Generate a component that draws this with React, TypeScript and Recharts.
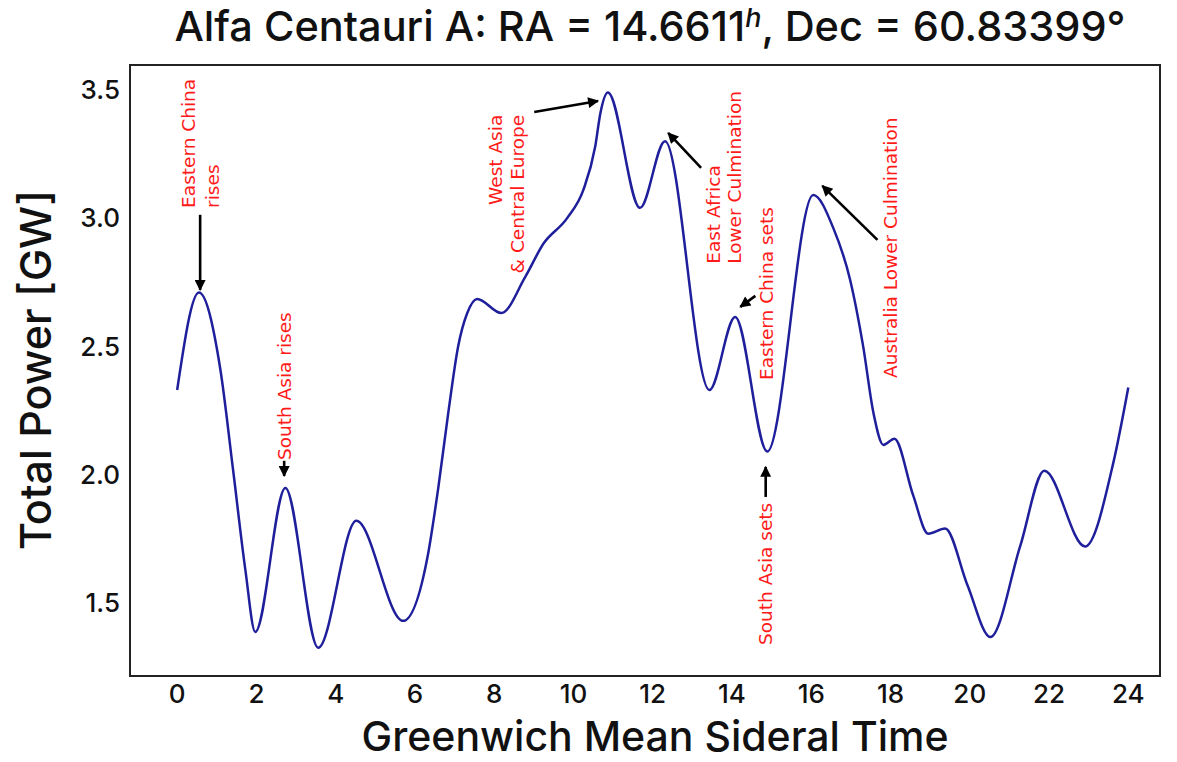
import React from "react";
import { LineChart, Line, XAxis, YAxis, ReferenceLine, ReferenceDot, ReferenceArea } from "recharts";

const gmst = [0, 0.55, 1.09, 1.41, 1.72, 1.97, 2.73, 3.56, 4.52, 5.7, 6.33, 6.59, 6.84, 7.09, 7.32, 7.57, 8.18, 8.78, 9.24, 9.84, 10.25, 10.55, 10.68, 10.87, 11.68, 12.31, 13.43, 14.08, 14.89, 16.05, 16.56, 16.98, 17.31, 17.57, 17.82, 18.1, 18.57, 18.95, 19.38, 19.94, 20.52, 21.27, 21.88, 22.91, 23.62, 24];
const power = [2.33, 2.71, 2.41, 2.02, 1.63, 1.387, 1.948, 1.325, 1.82, 1.43, 1.69, 1.95, 2.24, 2.5, 2.63, 2.685, 2.63, 2.77, 2.9, 3.0, 3.11, 3.28, 3.41, 3.49, 3.04, 3.3, 2.33, 2.615, 2.09, 3.09, 2.96, 2.76, 2.5, 2.24, 2.116, 2.14, 1.92, 1.77, 1.79, 1.57, 1.367, 1.72, 2.015, 1.72, 2.045, 2.34];

const xTicks = [0, 2, 4, 6, 8, 10, 12, 14, 16, 18, 20, 22, 24];
const yTicks = [1.5, 2.0, 2.5, 3.0, 3.5];

const noteText = ["Eastern China", "rises", "South Asia rises", "West Asia", "& Central Europe", "East Africa", "Lower Culmination", "Eastern China sets", "South Asia sets", "Australia Lower Culmination"];
const noteX = [0.278, 0.883, 2.7, 8.025, 8.58, 13.527, 14.057, 14.864, 14.84, 17.99];
const noteY = [3.04, 3.04, 2.057, 3.403, 3.403, 2.822, 2.822, 2.369, 1.336, 2.377];
const noteAnchor = ["start", "start", "start", "end", "end", "start", "start", "start", "start", "start"];

const arrowFromX = [0.58, 2.7, 9.01, 13.22, 14.59, 14.85, 17.67];
const arrowFromY = [3.013, 2.054, 3.414, 3.196, 2.697, 1.913, 2.915];
const arrowToX = [0.58, 2.7, 10.62, 12.39, 14.21, 14.85, 16.28];
const arrowToY = [2.72, 1.995, 3.457, 3.332, 2.654, 2.03, 3.126];

const data = gmst.map((t, i) => ({ t, p: power[i] }));

const X_DOMAIN = [-1.19, 24.8];
const Y_DOMAIN = [1.215, 3.597];
const FONT = "Inter, 'Open Sans', sans-serif";

export default function App() {
  return (
    <div style={{ position: "relative", width: 1169, height: 754 }}>
      <LineChart width={1169} height={754} data={data} margin={{ top: 57, right: 17, bottom: 46, left: 52 }}>
        <XAxis
          type="number"
          dataKey="t"
          domain={X_DOMAIN}
          ticks={xTicks}
          allowDataOverflow
          axisLine={false}
          tickLine={false}
          tickSize={0}
          tickMargin={9}
          height={40}
          tick={{ fontSize: 26, fill: "#111", fontFamily: FONT, fontWeight: 500 }}
        />
        <YAxis
          type="number"
          domain={Y_DOMAIN}
          ticks={yTicks}
          allowDataOverflow
          axisLine={false}
          tickLine={false}
          tickSize={0}
          tickMargin={10}
          width={70}
          tickFormatter={(v) => v.toFixed(1)}
          tick={{ fontSize: 26, fill: "#111", fontFamily: FONT, fontWeight: 500 }}
        />
        <ReferenceArea x1={X_DOMAIN[0]} x2={X_DOMAIN[1]} y1={Y_DOMAIN[0]} y2={Y_DOMAIN[1]} fill="none" stroke="#222" strokeWidth={2} ifOverflow="visible" />
        <Line type="monotone" dataKey="p" stroke="#1f1f9c" strokeWidth={2.5} dot={false} isAnimationActive={false} />
        {arrowFromX.map((fx, i) => (
          <ReferenceLine
            key={"a" + i}
            segment={[{ x: fx, y: arrowFromY[i] }, { x: arrowToX[i], y: arrowToY[i] }]}
            ifOverflow="visible"
            shape={(p: any) => (
              <line x1={p.x1} y1={p.y1} x2={p.x2} y2={p.y2} stroke="#000" strokeWidth={2.6} markerEnd="url(#ahead)" />
            )}
          />
        ))}
        {noteX.map((nx, i) => (
          <ReferenceDot
            key={"n" + i}
            x={nx}
            y={noteY[i]}
            r={0}
            ifOverflow="visible"
            shape={(p: any) => (
              <text
                x={p.cx}
                y={p.cy}
                transform={`rotate(-90 ${p.cx} ${p.cy})`}
                textAnchor={noteAnchor[i]}
                dominantBaseline="central"
                fill="#ff1a1a"
                fontSize={18.5}
                fontFamily="'DejaVu Sans', sans-serif"
              >
                {noteText[i]}
              </text>
            )}
          />
        ))}
      </LineChart>
      <svg width={1177} height={762} style={{ position: "absolute", left: -8, top: -8, pointerEvents: "none" }}>
        <defs>
          <marker id="ahead" viewBox="0 0 10 10" refX="9" refY="5" markerWidth="14" markerHeight="11" markerUnits="userSpaceOnUse" orient="auto">
            <path d="M0,0 L10,5 L0,10 z" fill="#000" />
          </marker>
        </defs>
        <text x={650} y={41} textAnchor="middle" fontSize={41.5} fontWeight={500} fontFamily={FONT} fill="#111">
          Alfa Centauri A: RA = 14.6611
          <tspan fontStyle="italic" fontSize={27} dy={-14}>h</tspan>
          <tspan dy={14}>, Dec = 60.83399°</tspan>
        </text>
        <text x={655} y={751} textAnchor="middle" fontSize={41} fontWeight={500} fontFamily={FONT} fill="#111">
          Greenwich Mean Sideral Time
        </text>
        <text x={35} y={370} transform="rotate(-90 35 370)" textAnchor="middle" dominantBaseline="central" fontSize={43} fontWeight={500} fontFamily={FONT} fill="#111">
          Total Power [GW]
        </text>
      </svg>
    </div>
  );
}
